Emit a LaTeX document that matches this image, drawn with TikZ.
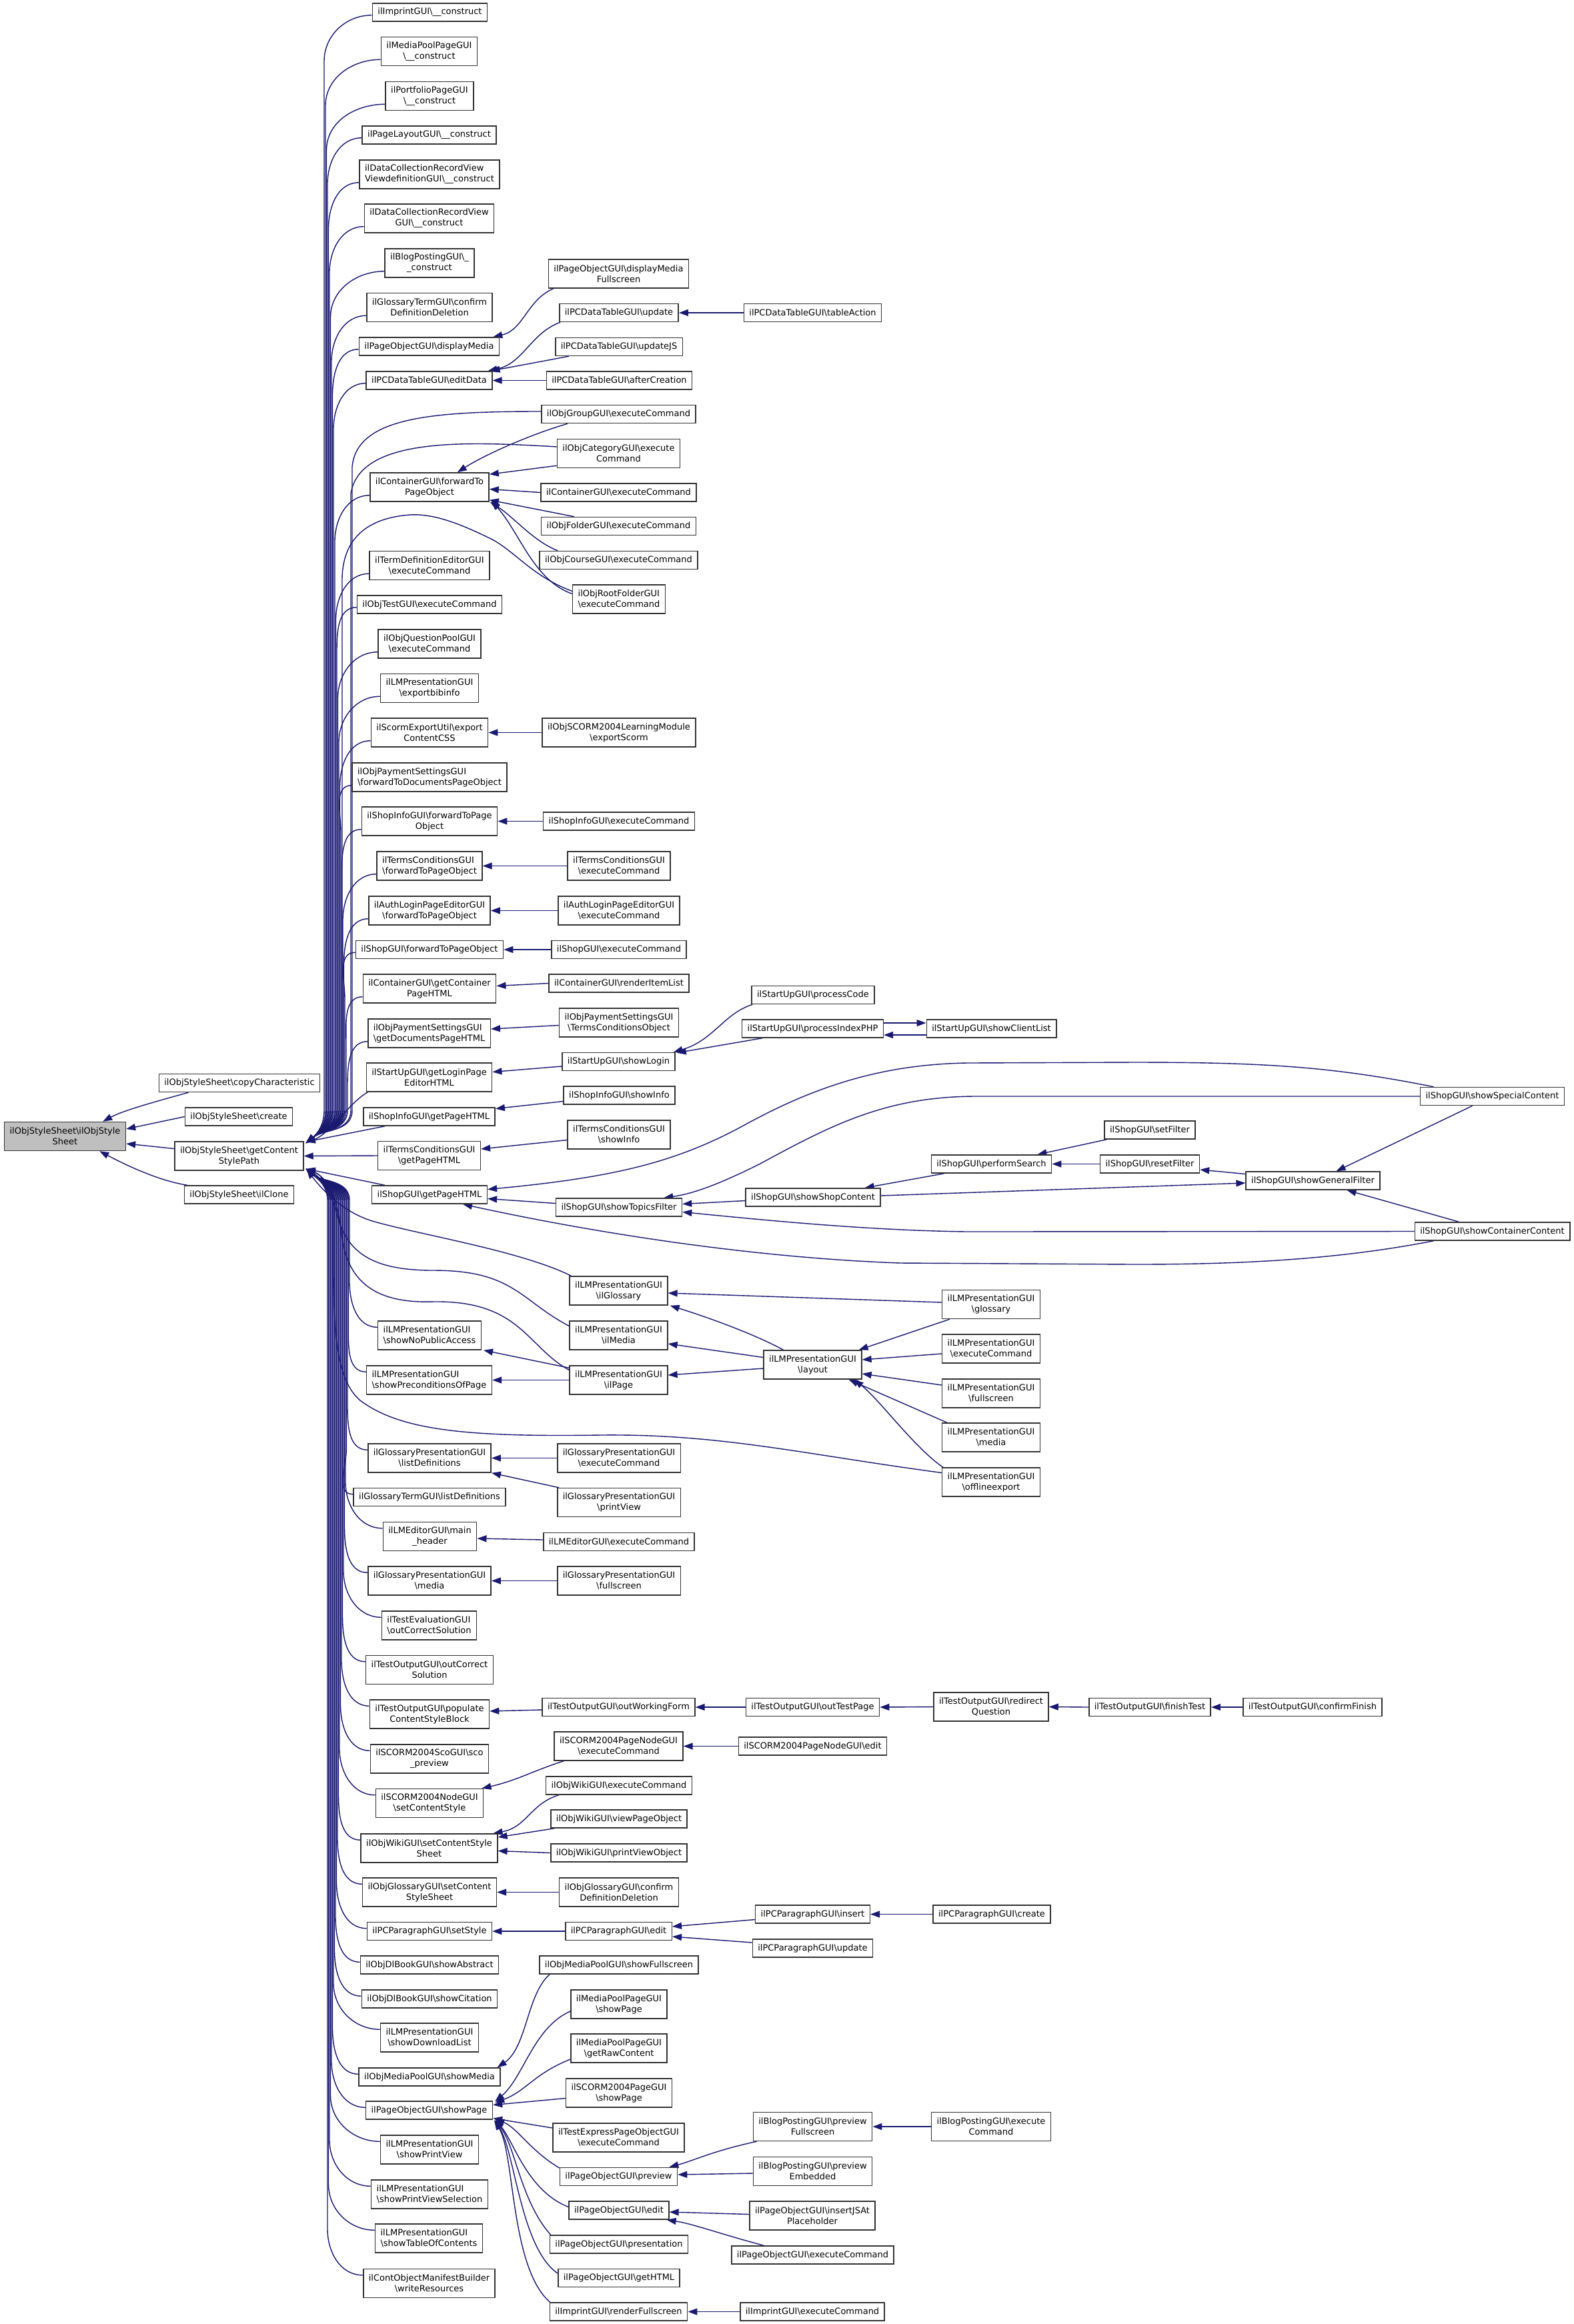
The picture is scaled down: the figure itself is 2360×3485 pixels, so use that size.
\documentclass[tikz,border=0pt]{standalone}
\usepackage{fontspec}
\setmainfont{DejaVu Sans}
\usetikzlibrary{arrows.meta,calc}
\newcommand\BS{\textbackslash}
\definecolor{eb}{HTML}{191970}
\pgfdeclarelayer{bg}
\pgfsetlayers{bg,main}
\newcommand\UB[3]{\draw[edg] ($(#1.south west)+(0,10)$) to[out=180,in=90] (#2,#3) -- (#2,-1665) to[out=-90,in=40] ($(c3.north east)+(3,-3)$);}
\newcommand\LB[3]{\draw[edg] ($(#1.north west)+(0,-10)$) to[out=180,in=-90] (#2,#3) -- (#2,-1800) to[out=90,in=-40] ($(c3.south east)+(3,3)$);}
\begin{document}
\begin{tikzpicture}[x=1pt,y=1pt,
  box/.style={draw=black!80,line width=1.5pt,fill=white,rectangle,inner xsep=8pt,inner ysep=0pt,font=\fontsize{13}{16}\selectfont},
  one/.style={box,minimum height=27pt},
  two/.style={box,minimum height=43pt,align=center},
  twol/.style={box,minimum height=43pt,align=left},
  edg/.style={draw=eb,line width=1.4pt,-{Triangle[length=14pt,width=10pt]}},
]
\useasboundingbox (0,0) rectangle (2360,-3485);
% column 0 and 1
\node[two,fill=black!25] (n0) at (97.5,-1704) {ilObjStyleSheet\BS{}ilObjStyle\\Sheet};
\node[one] (c1) at (359,-1624) {ilObjStyleSheet\BS{}copyCharacteristic};
\node[one] (c2) at (358,-1674.5) {ilObjStyleSheet\BS{}create};
\node[two] (c3) at (358.5,-1733.5) {ilObjStyleSheet\BS{}getContent\\StylePath};
\node[one] (c4) at (358.5,-1791.5) {ilObjStyleSheet\BS{}ilClone};
% column 2
\node[one] (a1) at (644.5,-18.5) {ilImprintGUI\BS\_\_construct};
\node[two] (a2) at (643.5,-77) {ilMediaPoolPageGUI\\\BS\_\_construct};
\node[two] (a3) at (644,-144) {ilPortfolioPageGUI\\\BS\_\_construct};
\node[one] (a4) at (643.5,-202.5) {ilPageLayoutGUI\BS\_\_construct};
\node[twol] (a5) at (644,-261.5) {ilDataCollectionRecordView\\ViewdefinitionGUI\BS\_\_construct};
\node[two] (a6) at (643.5,-327.5) {ilDataCollectionRecordView\\GUI\BS\_\_construct};
\node[two] (a7) at (644,-394.5) {ilBlogPostingGUI\BS\_\\\_construct};
\node[two] (a8) at (644,-461) {ilGlossaryTermGUI\BS{}confirm\\DefinitionDeletion};
\node[one] (a9) at (643.5,-519.5) {ilPageObjectGUI\BS{}displayMedia};
\node[one] (a10) at (643.5,-570.5) {ilPCDataTableGUI\BS{}editData};
\node[two] (a11) at (644,-730.5) {ilContainerGUI\BS{}forwardTo\\PageObject};
\node[two] (a12) at (644,-848) {ilTermDefinitionEditorGUI\\\BS{}executeCommand};
\node[one] (a13) at (644,-906.5) {ilObjTestGUI\BS{}executeCommand};
\node[two] (a14) at (644,-965.5) {ilObjQuestionPoolGUI\\\BS{}executeCommand};
\node[two] (a15) at (644,-1032) {ilLMPresentationGUI\\\BS{}exportbibinfo};
\node[two] (a16) at (644,-1098.5) {ilScormExportUtil\BS{}export\\ContentCSS};
\node[twol] (a17) at (644,-1165.5) {ilObjPaymentSettingsGUI\\\BS{}forwardToDocumentsPageObject};
\node[two] (a18) at (644,-1231.5) {ilShopInfoGUI\BS{}forwardToPage\\Object};
\node[twol] (a19) at (644,-1298.5) {ilTermsConditionsGUI\\\BS{}forwardToPageObject};
\node[two] (a20) at (644,-1365.5) {ilAuthLoginPageEditorGUI\\\BS{}forwardToPageObject};
\node[one] (a21) at (644,-1424) {ilShopGUI\BS{}forwardToPageObject};
\node[two] (a22) at (644,-1482.5) {ilContainerGUI\BS{}getContainer\\PageHTML};
\node[twol] (a23) at (643.5,-1549.5) {ilObjPaymentSettingsGUI\\\BS{}getDocumentsPageHTML};
\node[two] (a24) at (643.5,-1615.5) {ilStartUpGUI\BS{}getLoginPage\\EditorHTML};
\node[one] (a25) at (643.5,-1674.5) {ilShopInfoGUI\BS{}getPageHTML};
\node[two] (a26) at (643.5,-1733) {ilTermsConditionsGUI\\\BS{}getPageHTML};
\node[one] (a27) at (644,-1791.5) {ilShopGUI\BS{}getPageHTML};
\node[twol] (a28) at (644,-2002.5) {ilLMPresentationGUI\\\BS{}showNoPublicAccess};
\node[twol] (a29) at (643.5,-2069.5) {ilLMPresentationGUI\\\BS{}showPreconditionsOfPage};
\node[two] (a30) at (644,-2186.5) {ilGlossaryPresentationGUI\\\BS{}listDefinitions};
\node[one] (a31) at (644,-2245) {ilGlossaryTermGUI\BS{}listDefinitions};
\node[two] (a32) at (644.5,-2304) {ilLMEditorGUI\BS{}main\\\_header};
\node[two] (a33) at (644,-2370.5) {ilGlossaryPresentationGUI\\\BS{}media};
\node[twol] (a34) at (643.5,-2437.5) {ilTestEvaluationGUI\\\BS{}outCorrectSolution};
\node[two] (a35) at (644,-2504) {ilTestOutputGUI\BS{}outCorrect\\Solution};
\node[two] (a36) at (644,-2570.5) {ilTestOutputGUI\BS{}populate\\ContentStyleBlock};
\node[two] (a37) at (644,-2637.5) {ilSCORM2004ScoGUI\BS{}sco\\\_preview};
\node[two] (a38) at (644,-2704) {ilSCORM2004NodeGUI\\\BS{}setContentStyle};
\node[two] (a39) at (643.5,-2771.5) {ilObjWikiGUI\BS{}setContentStyle\\Sheet};
\node[two] (a40) at (644,-2837.5) {ilObjGlossaryGUI\BS{}setContent\\StyleSheet};
\node[one] (a41) at (644,-2896) {ilPCParagraphGUI\BS{}setStyle};
\node[one] (a42) at (644,-2946.5) {ilObjDlBookGUI\BS{}showAbstract};
\node[one] (a43) at (644,-2997.5) {ilObjDlBookGUI\BS{}showCitation};
\node[two] (a44) at (644,-3055.5) {ilLMPresentationGUI\\\BS{}showDownloadList};
\node[one] (a45) at (644,-3114.5) {ilObjMediaPoolGUI\BS{}showMedia};
\node[one] (a46) at (643.5,-3164.5) {ilPageObjectGUI\BS{}showPage};
\node[two] (a47) at (644,-3223.5) {ilLMPresentationGUI\\\BS{}showPrintView};
\node[twol] (a48) at (644,-3290.5) {ilLMPresentationGUI\\\BS{}showPrintViewSelection};
\node[twol] (a49) at (643,-3356.5) {ilLMPresentationGUI\\\BS{}showTableOfContents};
\node[two] (a50) at (643.5,-3424) {ilContObjectManifestBuilder\\\BS{}writeResources};
% column 3
\node[two] (b1) at (927.5,-410.5) {ilPageObjectGUI\BS{}displayMedia\\Fullscreen};
\node[one] (b2) at (928,-469) {ilPCDataTableGUI\BS{}update};
\node[one] (b3) at (928,-520) {ilPCDataTableGUI\BS{}updateJS};
\node[one] (b4) at (928.5,-570.5) {ilPCDataTableGUI\BS{}afterCreation};
\node[one] (b5) at (927.5,-621) {ilObjGroupGUI\BS{}executeCommand};
\node[two] (b6) at (927.5,-680) {ilObjCategoryGUI\BS{}execute\\Command};
\node[one] (b7) at (927.5,-738.5) {ilContainerGUI\BS{}executeCommand};
\node[one] (b8) at (927.5,-789) {ilObjFolderGUI\BS{}executeCommand};
\node[one] (b9) at (927.5,-840) {ilObjCourseGUI\BS{}executeCommand};
\node[twol] (b10) at (928,-898.5) {ilObjRootFolderGUI\\\BS{}executeCommand};
\node[two] (b11) at (928,-1098.5) {ilObjSCORM2004LearningModule\\\BS{}exportScorm};
\node[one] (b12) at (928,-1231.5) {ilShopInfoGUI\BS{}executeCommand};
\node[two] (b13) at (928,-1298.5) {ilTermsConditionsGUI\\\BS{}executeCommand};
\node[two] (b14) at (928,-1365.5) {ilAuthLoginPageEditorGUI\\\BS{}executeCommand};
\node[one] (b15) at (928,-1424) {ilShopGUI\BS{}executeCommand};
\node[one] (b16) at (928,-1474.5) {ilContainerGUI\BS{}renderItemList};
\node[two] (b17) at (928,-1533.5) {ilObjPaymentSettingsGUI\\\BS{}TermsConditionsObject};
\node[one] (b18) at (927.5,-1592) {ilStartUpGUI\BS{}showLogin};
\node[one] (b19) at (928.5,-1642.5) {ilShopInfoGUI\BS{}showInfo};
\node[two] (b20) at (928,-1701.5) {ilTermsConditionsGUI\\\BS{}showInfo};
\node[one] (b21) at (928,-1810.5) {ilShopGUI\BS{}showTopicsFilter};
\node[two] (b22) at (927.5,-1935.5) {ilLMPresentationGUI\\\BS{}ilGlossary};
\node[two] (b23) at (927.5,-2002.5) {ilLMPresentationGUI\\\BS{}ilMedia};
\node[two] (b24) at (927.5,-2069.5) {ilLMPresentationGUI\\\BS{}ilPage};
\node[two] (b25) at (928,-2186.5) {ilGlossaryPresentationGUI\\\BS{}executeCommand};
\node[two] (b26) at (928,-2253) {ilGlossaryPresentationGUI\\\BS{}printView};
\node[one] (b27) at (928,-2312) {ilLMEditorGUI\BS{}executeCommand};
\node[two] (b28) at (928,-2370.5) {ilGlossaryPresentationGUI\\\BS{}fullscreen};
\node[one] (b29) at (927.5,-2560) {ilTestOutputGUI\BS{}outWorkingForm};
\node[two] (b30) at (927.5,-2618.5) {ilSCORM2004PageNodeGUI\\\BS{}executeCommand};
\node[one] (b31) at (928,-2677.5) {ilObjWikiGUI\BS{}executeCommand};
\node[one] (b32) at (928,-2727.5) {ilObjWikiGUI\BS{}viewPageObject};
\node[one] (b33) at (928,-2778.5) {ilObjWikiGUI\BS{}printViewObject};
\node[two] (b34) at (928,-2837.5) {ilObjGlossaryGUI\BS{}confirm\\DefinitionDeletion};
\node[one] (b35) at (927.5,-2896) {ilPCParagraphGUI\BS{}edit};
\node[one] (b36) at (928,-2946.5) {ilObjMediaPoolGUI\BS{}showFullscreen};
\node[two] (b37) at (928,-3005.5) {ilMediaPoolPageGUI\\\BS{}showPage};
\node[two] (b38) at (928,-3071.5) {ilMediaPoolPageGUI\\\BS{}getRawContent};
\node[two] (b39) at (928,-3138.5) {ilSCORM2004PageGUI\\\BS{}showPage};
\node[two] (b40) at (927.5,-3205.5) {ilTestExpressPageObjectGUI\\\BS{}executeCommand};
\node[one] (b41) at (927.5,-3264) {ilPageObjectGUI\BS{}preview};
\node[one] (b42) at (928,-3314.5) {ilPageObjectGUI\BS{}edit};
\node[one] (b43) at (928,-3365.5) {ilPageObjectGUI\BS{}presentation};
\node[one] (b44) at (928,-3416) {ilPageObjectGUI\BS{}getHTML};
\node[one] (b45) at (927.5,-3466.5) {ilImprintGUI\BS{}renderFullscreen};
% column 4
\node[one] (d1) at (1218.5,-469) {ilPCDataTableGUI\BS{}tableAction};
\node[one] (d2) at (1219,-1492) {ilStartUpGUI\BS{}processCode};
\node[one] (d3) at (1218.5,-1542.5) {ilStartUpGUI\BS{}processIndexPHP};
\node[one] (d4) at (1219,-1795.5) {ilShopGUI\BS{}showShopContent};
\node[two] (d5) at (1218.5,-2046.5) {ilLMPresentationGUI\\\BS{}layout};
\node[one] (d6) at (1218.5,-2560) {ilTestOutputGUI\BS{}outTestPage};
\node[one] (d7) at (1218.5,-2618.5) {ilSCORM2004PageNodeGUI\BS{}edit};
\node[one] (d8) at (1218.5,-2870.5) {ilPCParagraphGUI\BS{}insert};
\node[one] (d9) at (1218.5,-2921.5) {ilPCParagraphGUI\BS{}update};
\node[two] (d10) at (1218.5,-3189) {ilBlogPostingGUI\BS{}preview\\Fullscreen};
\node[two] (d11) at (1218.5,-3256) {ilBlogPostingGUI\BS{}preview\\Embedded};
\node[two] (d12) at (1218,-3322.5) {ilPageObjectGUI\BS{}insertJSAt\\Placeholder};
\node[one] (d13) at (1218.5,-3381.5) {ilPageObjectGUI\BS{}executeCommand};
\node[one] (d14) at (1218,-3466.5) {ilImprintGUI\BS{}executeCommand};
% column 5
\node[one] (e1) at (1486.5,-1542.5) {ilStartUpGUI\BS{}showClientList};
\node[one] (e2) at (1486.5,-1745.5) {ilShopGUI\BS{}performSearch};
\node[two] (e3) at (1486,-1956) {ilLMPresentationGUI\\\BS{}glossary};
\node[two] (e4) at (1486,-2022.5) {ilLMPresentationGUI\\\BS{}executeCommand};
\node[two] (e5) at (1486,-2089.5) {ilLMPresentationGUI\\\BS{}fullscreen};
\node[two] (e6) at (1486,-2155.5) {ilLMPresentationGUI\\\BS{}media};
\node[two] (e7) at (1486,-2222.5) {ilLMPresentationGUI\\\BS{}offlineexport};
\node[two] (e8) at (1486,-2559.5) {ilTestOutputGUI\BS{}redirect\\Question};
\node[one] (e9) at (1487,-2870.5) {ilPCParagraphGUI\BS{}create};
\node[two] (e10) at (1486,-3189) {ilBlogPostingGUI\BS{}execute\\Command};
% columns 6-8
\node[one] (f1) at (1724,-1694.5) {ilShopGUI\BS{}setFilter};
\node[one] (f2) at (1724,-1745.5) {ilShopGUI\BS{}resetFilter};
\node[one] (f3) at (1724,-2560) {ilTestOutputGUI\BS{}finishTest};
\node[one] (g1) at (1968.5,-1770.5) {ilShopGUI\BS{}showGeneralFilter};
\node[one] (g2) at (1968,-2560) {ilTestOutputGUI\BS{}confirmFinish};
\node[one] (h1) at (2237.5,-1644) {ilShopGUI\BS{}showSpecialContent};
\node[one] (h2) at (2237.5,-1846.5) {ilShopGUI\BS{}showContainerContent};

\begin{pgfonlayer}{bg}
\fill[white] (0,0) rectangle (2360,-3485);
% into ilObjStyleSheet
\draw[edg] ([xshift=45pt]c1.south west) .. controls (240,-1650) and (185,-1665) .. ([xshift=-35pt]n0.north east);
\draw[edg] (c2.west) -- ([yshift=11pt]n0.east);
\draw[edg] ([yshift=11pt]c3.west) -- ([yshift=-11pt]n0.east);
\draw[edg] ([xshift=5pt]c4.north west) .. controls (235,-1770) and (185,-1745) .. ([xshift=-40pt]n0.south east);
% upper bundle into getContentStylePath
\UB{a1}{486}{-92}
\UB{a2}{488}{-158.5}
\UB{a3}{489.5}{-225.5}
\UB{a4}{491}{-276}
\UB{a5}{492.5}{-343}
\UB{a6}{494}{-409}
\UB{a7}{495.5}{-476}
\UB{a8}{497}{-542.5}
\UB{a9}{498.5}{-593}
\UB{a10}{500}{-644}
\UB{a11}{502}{-812}
\UB{a12}{503.5}{-929.5}
\UB{a13}{505}{-980}
\UB{a14}{506.5}{-1047}
\UB{a15}{508}{-1113.5}
\UB{a16}{509.5}{-1180}
\UB{a17}{511}{-1247}
\UB{a18}{512.5}{-1313}
\UB{a19}{514}{-1380}
\UB{a20}{515.5}{-1447}
\UB{a21}{517}{-1497.5}
\UB{a22}{519}{-1564}
\UB{a23}{521}{-1631}
\draw[edg] ([xshift=3pt]a24.south west) .. controls (525,-1652) and (495,-1700) .. ($(c3.north east)+(3,-2)$);
\draw[edg] ([xshift=33pt]a25.south west) -- ($(c3.north east)+(3,-1)$);
\draw[edg] (a26.west) -- (c3.east);
\draw[edg] ([xshift=20pt]a27.north west) -- ($(c3.south east)+(3,3)$);
\draw[edg] ([yshift=4pt]b5.west) .. controls (650,-617) and (535,-625) .. (528,-700) -- (528,-1665) to[out=-90,in=40] ($(c3.north east)+(3,-3)$);
\draw[edg] ([yshift=10pt]b6.west) .. controls (700,-662) and (540,-655) .. (526,-740) -- (526,-1665) to[out=-90,in=40] ($(c3.north east)+(3,-3)$);
\draw[edg] ([yshift=12pt]b10.west) .. controls (800,-865) and (775,-830) .. (740,-810) .. controls (690,-785) and (650,-770) .. (615,-772) .. controls (560,-776) and (513,-800) .. (513,-870) -- (513,-1665) to[out=-90,in=40] ($(c3.north east)+(3,-3)$);
% lower bundle
\LB{a28}{524}{-1921}
\LB{a29}{522.5}{-1988}
\LB{a30}{521}{-2105}
\LB{a31}{519.5}{-2171.5}
\LB{a32}{518}{-2222.5}
\LB{a33}{516.5}{-2289}
\LB{a34}{515}{-2356}
\LB{a35}{513.5}{-2422.5}
\LB{a36}{512}{-2489}
\LB{a37}{510.5}{-2556}
\LB{a38}{509}{-2622.5}
\LB{a39}{507.5}{-2690}
\LB{a40}{506}{-2756}
\LB{a41}{504.5}{-2822.5}
\LB{a42}{503}{-2873}
\LB{a43}{501.5}{-2924}
\LB{a44}{500}{-2974}
\LB{a45}{498.5}{-3041}
\LB{a46}{497}{-3091}
\LB{a47}{495.5}{-3142}
\LB{a48}{494}{-3209}
\LB{a49}{492.5}{-3275}
\LB{a50}{491}{-3342.5}
\draw[edg] ([xshift=3pt]b22.north west) .. controls (780,-1875) and (620,-1850) .. (555,-1830) .. controls (510,-1815) and (480,-1780) .. ($(c3.south east)+(4,2)$);
\draw[edg] ([yshift=14pt]b23.west) .. controls (780,-1950) and (770,-1905) .. (650,-1905) .. controls (560,-1905) and (520,-1880) .. (505,-1820) .. controls (498,-1790) and (480,-1765) .. ($(c3.south east)+(3,3)$);
\draw[edg] ([yshift=15pt]b24.west) .. controls (790,-2020) and (780,-1950) .. (650,-1952) .. controls (560,-1955) and (520,-1920) .. (512,-1850) .. controls (507,-1800) and (490,-1765) .. ($(c3.south east)+(3,3)$);
\draw[edg] ([yshift=14pt]e7.west) .. controls (1200,-2180) and (1080,-2150) .. (900,-2152) .. controls (700,-2155) and (600,-2145) .. (540,-2100) .. controls (505,-2070) and (500,-2000) .. (500,-1900) -- (500,-1810) .. controls (500,-1780) and (482,-1762) .. ($(c3.south east)+(3,3)$);
% top area
\draw[edg] ([xshift=8pt]b1.south west) .. controls (790,-450) and (785,-495) .. ([xshift=-10pt]a9.north east);
\draw[edg] ([xshift=2pt]b2.south west) .. controls (795,-500) and (785,-545) .. ([xshift=-7pt]a10.north east);
\draw[edg] ([xshift=21pt]b3.south west) -- ([xshift=-3pt]a10.north east);
\draw[edg] (b4.west) -- (a10.east);
\draw[edg] (d1.west) -- (b2.east);
\draw[edg] ([xshift=40pt]b5.south west) .. controls (800,-650) and (730,-680) .. ([xshift=-48pt]a11.north east);
\draw[edg] ([yshift=4pt]b6.south west) -- ([yshift=-3pt]a11.north east);
\draw[edg] (b7.west) -- ([yshift=-3pt]a11.east);
\draw[edg] ([xshift=50pt]b8.north west) -- ([yshift=3pt]a11.south east);
\draw[edg] ([xshift=28pt]b9.north west) .. controls (800,-812) and (770,-775) .. ([xshift=1pt]a11.south east);
\draw[edg] ([yshift=8pt]b10.west) .. controls (800,-870) and (780,-800) .. ([xshift=3pt,yshift=2pt]a11.south east);
\draw[edg] (b11.west) -- (a16.east);
\draw[edg] (b12.west) -- (a18.east);
\draw[edg] (b13.west) -- (a19.east);
\draw[edg] (b14.west) -- (a20.east);
\draw[edg] (b15.west) -- (a21.east);
\draw[edg] (b16.west) -- ([yshift=4pt]a22.east);
\draw[edg] ([yshift=-4pt]b17.west) -- ([yshift=6.5pt]a23.east);
\draw[edg] ([yshift=-7pt]b18.west) -- ([yshift=8pt]a24.east);
\draw[edg] ([xshift=2pt]d2.south west) .. controls (1085,-1520) and (1070,-1560) .. ([xshift=-3pt]b18.north east);
\draw[edg] ([xshift=31pt]d3.south west) -- ([xshift=2pt,yshift=-1pt]b18.north east);
\draw[edg] ([yshift=8.5pt]d3.east) -- ([yshift=8.5pt]e1.west);
\draw[edg] ([yshift=-9.5pt]e1.west) -- ([yshift=-9.5pt]d3.east);
\draw[edg] ([yshift=-9pt]b19.west) -- ([yshift=12pt]a25.east);
\draw[edg] ([yshift=-8pt]b20.west) -- ([yshift=10pt]a26.east);
% shop
\draw[edg] ([xshift=-88pt]h1.north) .. controls (2000,-1600) and (1900,-1593) .. (1700,-1593) -- (1450,-1594) .. controls (1330,-1596) and (1230,-1625) .. (1120,-1685) .. controls (1020,-1740) and (930,-1765) .. ([yshift=8pt]a27.east);
\draw[edg] (h1.west) -- (1460,-1644) .. controls (1330,-1645) and (1250,-1685) .. (1140,-1745) .. controls (1080,-1775) and (1040,-1790) .. ([xshift=-28pt]b21.north east);
\draw[edg] ([xshift=-30pt]h1.south) -- ([xshift=35pt]g1.north);
\draw[edg] ([xshift=-50pt]h2.north) -- ([xshift=51pt]g1.south);
\draw[edg] (h2.west) -- (1450,-1847) .. controls (1300,-1845) and (1150,-1830) .. ([yshift=-7pt]b21.east);
\draw[edg] ([xshift=-88pt]h2.south) .. controls (2000,-1890) and (1850,-1896) .. (1700,-1896) -- (1350,-1894) .. controls (1100,-1885) and (850,-1840) .. ([xshift=50pt]a27.south);
\draw[edg] ([yshift=6pt]b21.west) -- ([yshift=-6pt]a27.east);
\draw[edg] ([yshift=-5pt]d4.west) -- ([yshift=5pt]b21.east);
\draw[edg] ([xshift=20pt]e2.south west) -- ([xshift=-24pt]d4.north east);
\draw[edg] ([yshift=2.5pt]d4.east) -- ([yshift=-3.5pt]g1.west);
\draw[edg] ([xshift=4pt]f1.south west) -- ([xshift=-22pt]e2.north east);
\draw[edg] (f2.west) -- (e2.east);
\draw[edg] ([yshift=10pt]g1.west) -- ([yshift=-8.5pt]f2.east);
% LM presentation
\draw[edg] ([yshift=3pt]e3.west) -- ([yshift=-3.5pt]b22.east);
\draw[edg] ([xshift=-44pt]d5.north) .. controls (1130,-2000) and (1060,-1975) .. ([xshift=3pt]b22.south east);
\draw[edg] ([yshift=11pt]d5.west) -- ([yshift=-12.5pt]b23.east);
\draw[edg] ([yshift=-5.5pt]d5.west) -- ([yshift=7.5pt]b24.east);
\draw[edg] ([yshift=-4pt]b24.north west) -- ([xshift=3pt]a28.south east);
\draw[edg] (b24.west) -- (a29.east);
\draw[edg] ([xshift=12pt]e3.south west) -- ([xshift=-5pt]d5.north east);
\draw[edg] ([yshift=-7.5pt]e4.west) -- ([yshift=7.5pt]d5.east);
\draw[edg] ([yshift=12.5pt]e5.west) -- ([yshift=-13.5pt]d5.east);
\draw[edg] ([xshift=8pt]e6.north west) -- ([xshift=-20pt]d5.south east);
\draw[edg] ([xshift=2pt]e7.north west) .. controls (1370,-2170) and (1320,-2100) .. ([xshift=-12pt]d5.south east);
% glossary, editor
\draw[edg] (b25.west) -- (a30.east);
\draw[edg] ([xshift=3pt]b26.north west) -- (a30.south east);
\draw[edg] ([yshift=3pt]b27.west) -- ([yshift=-3pt]a32.east);
\draw[edg] (b28.west) -- (a33.east);
% test output
\draw[edg] ([yshift=-4pt]b29.west) -- ([yshift=4.5pt]a36.east);
\draw[edg] (d6.west) -- (b29.east);
\draw[edg] (e8.west) -- (d6.east);
\draw[edg] (f3.west) -- (e8.east);
\draw[edg] (g2.west) -- (f3.east);
% scorm, wiki
\draw[edg] ([xshift=15pt]b30.south west) .. controls (800,-2655) and (775,-2670) .. ([xshift=-3pt]a38.north east);
\draw[edg] (d7.west) -- (b30.east);
\draw[edg] ([xshift=20pt]b31.south west) .. controls (795,-2705) and (790,-2740) .. ([xshift=-7pt]a39.north east);
\draw[edg] ([xshift=6pt]b32.south west) -- ([yshift=16.5pt]a39.east);
\draw[edg] (b33.west) -- ([yshift=-4pt]a39.east);
\draw[edg] (b34.west) -- (a40.east);
\draw[edg] (b35.west) -- (a41.east);
\draw[edg] ([yshift=-8pt]d8.west) -- ([yshift=7pt]b35.east);
\draw[edg] ([yshift=8.5pt]d9.west) -- ([yshift=-8pt]b35.east);
\draw[edg] (e9.west) -- (d8.east);
% media / page object
\draw[edg] ([xshift=16pt]b36.south west) .. controls (790,-2990) and (790,-3070) .. ([xshift=-5pt]a45.north east);
\draw[edg] ([yshift=-10.5pt]b37.west) .. controls (800,-3040) and (785,-3115) .. ($(a46.north east)+(3,-1)$);
\draw[edg] ([yshift=-16.5pt]b38.west) .. controls (800,-3110) and (790,-3135) .. ($(a46.north east)+(3,-3)$);
\draw[edg] ([yshift=-8pt]b39.west) -- ([yshift=8pt]a46.east);
\draw[edg] ([yshift=14.5pt]b40.west) -- ([yshift=-12pt]a46.east);
\draw[edg] ([yshift=13pt]b41.west) .. controls (795,-3225) and (775,-3190) .. ($(a46.south east)+(3,1)$);
\draw[edg] ([yshift=5pt]b42.west) .. controls (790,-3285) and (770,-3210) .. ($(a46.south east)+(3,0)$);
\draw[edg] ([xshift=2pt]b43.north west) .. controls (780,-3300) and (772,-3215) .. ($(a46.south east)+(2,-1)$);
\draw[edg] ([yshift=7pt]b44.west) .. controls (780,-3370) and (772,-3225) .. ($(a46.south east)+(2,-1)$);
\draw[edg] ([xshift=1pt]b45.north west) .. controls (765,-3400) and (772,-3230) .. ($(a46.south east)+(2,-1)$);
\draw[edg] ([xshift=6pt]d10.south west) .. controls (1070,-3225) and (1040,-3240) .. ([xshift=-13pt]b41.north east);
\draw[edg] ([yshift=-3pt]d11.west) -- ([yshift=3pt]b41.east);
\draw[edg] (e10.west) -- (d10.east);
\draw[edg] ([yshift=2pt]d12.west) -- ([yshift=-2.5pt]b42.east);
\draw[edg] ([xshift=49pt]d13.north west) .. controls (1080,-3350) and (1040,-3335) .. ([xshift=-4pt]b42.south east);
\draw[edg] (d14.west) -- (b45.east);
\end{pgfonlayer}
\end{tikzpicture}
\end{document}
